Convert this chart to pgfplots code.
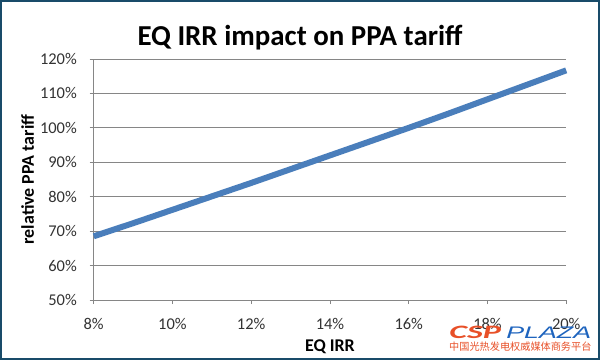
\documentclass[border=0pt]{standalone}
\usepackage{pgfplots}
\pgfplotsset{compat=1.18}
\usepackage{fontspec}
\setmainfont{Carlito}
\newfontfamily\arialfont{Liberation Sans}
\newfontfamily\cjk{Noto Sans CJK SC}
\definecolor{linec}{RGB}{74,126,187}
\definecolor{gridc}{RGB}{134,134,134}
\definecolor{framec}{RGB}{25,75,105}
\definecolor{logored}{RGB}{232,80,40}
\definecolor{logoblue}{RGB}{30,100,190}
\begin{document}
\begin{tikzpicture}[x=1bp,y=1bp]
\fill[white] (0,0) rectangle (600,360);
\begin{axis}[
  at={(93.7bp,60bp)}, anchor=south west,
  scale only axis, width=472.5bp, height=241bp,
  xmin=8, xmax=20, ymin=50, ymax=120,
  xtick={8,10,12,14,16,18,20},
  xticklabels={8\%,10\%,12\%,14\%,16\%,18\%,20\%},
  ytick={50,60,70,80,90,100,110,120},
  yticklabels={50\%,60\%,70\%,80\%,90\%,100\%,110\%,120\%},
  axis x line*=bottom, axis y line*=left,
  axis line style={gridc,-,line width=0.8bp},
  ymajorgrids, grid style={gridc,line width=0.8bp},
  tick align=outside, major tick length=4bp,
  tick style={gridc,line width=0.8bp},
  ticklabel style={font=\fontsize{16.5}{18}\selectfont, text=black!80, inner sep=0pt},
  yticklabel style={anchor=east, xshift=-12.7bp},
  xticklabel style={anchor=north, yshift=-14.5bp},
  xlabel={EQ IRR}, ylabel={relative PPA tariff},
  label style={font=\fontsize{18}{20}\selectfont\bfseries},
  xlabel style={at={(axis description cs:0.5,0)}, anchor=base, yshift=-51bp},
  ylabel style={at={(axis description cs:0,0.5)}, anchor=center, yshift=66bp},
  clip=false,
]
\addplot[linec, line width=6bp, line cap=butt] coordinates {
  (8,68.5) (9,72.3) (10,76.2) (11,80.1) (12,84.0) (13,88.0) (14,92.0)
  (15,96.0) (16,100.0) (17,104.1) (18,108.3) (19,112.5) (20,116.7)
};
\end{axis}
\node[anchor=base, font=\fontsize{29}{32}\selectfont\bfseries] at (300,315) {EQ IRR impact on PPA tariff};
% watermark
\node[anchor=base west, inner sep=0, xscale=1.8, font=\fontsize{19}{21}\selectfont\bfseries\itshape, text=logored] at (449,22) {CSP};
\node[anchor=base west, inner sep=0, xscale=1.6, font=\arialfont\fontsize{16.8}{19}\selectfont\itshape, text=logoblue] at (506,22) {PLAZA};
\node[anchor=base west, inner sep=0, font=\cjk\fontsize{10.2}{12}\selectfont, text=logored] at (449,9.5) {中国光热发电权威媒体商务平台};
\draw[framec, line width=2bp] (1,1) rectangle (599,359);
\end{tikzpicture}
\end{document}
